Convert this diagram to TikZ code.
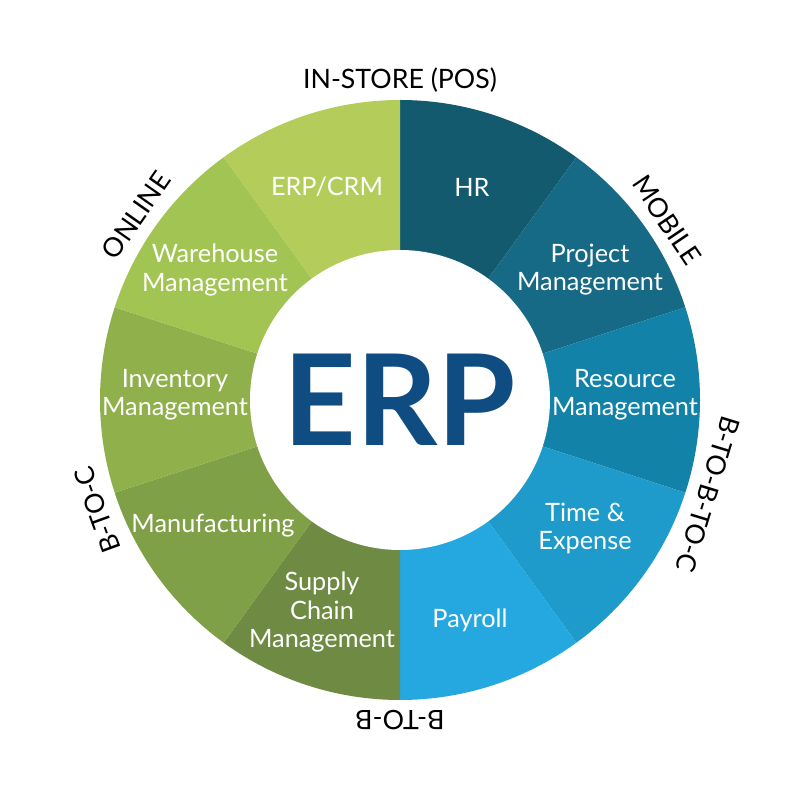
\documentclass[tikz,border=0pt]{standalone}
\usepackage{fontspec}
\setmainfont{Lato}
\usetikzlibrary{calc}
\definecolor{hrc}{HTML}{135A6E}
\definecolor{pmc}{HTML}{176A85}
\definecolor{rmc}{HTML}{1282A8}
\definecolor{tec}{HTML}{1E9ACB}
\definecolor{pyc}{HTML}{24A8DF}
\definecolor{scc}{HTML}{6E8A43}
\definecolor{mfc}{HTML}{7FA046}
\definecolor{imc}{HTML}{8FB04A}
\definecolor{wmc}{HTML}{A2C453}
\definecolor{crc}{HTML}{B3CC5A}
\definecolor{erpc}{HTML}{0F4C81}
\begin{document}
\begin{tikzpicture}[
        seg/.style={white, align=center, inner sep=1pt, font=\fontsize{7.2}{8}\selectfont},
        ring/.style={font=\fontsize{7.6}{9}\selectfont}
    ]
        \useasboundingbox (-4,-4) rectangle (4,4);
        % sectors, clockwise from the top
        \foreach \c [count=\i from 0] in {hrc,pmc,rmc,tec,pyc,scc,mfc,imc,wmc,crc} {
            \fill[\c] (0,0) -- ({90-36*\i}:3) arc ({90-36*\i}:{54-36*\i}:3) -- cycle;
        }
        \fill[white] (0,0) circle (1.5);
        \node[font=\fontsize{36}{36}\selectfont\bfseries, text=erpc] (erp) at (0,0) {ERP};

        % sector labels
        \node[seg] (hr) at (0.72,2.13) {HR};
        \node[seg] (pm) at (1.9,1.3) {Project\\Management};
        \node[seg] (rm) at (2.25,0.05) {Resource\\Management};
        \node[seg] (te) at (1.85,-1.28) {Time \&\\Expense};
        \node[seg] (py) at (0.7,-2.2) {Payroll};
        \node[seg] (sc) at (-0.78,-2.12) {Supply\\Chain\\Management};
        \node[seg] (mf) at (-1.87,-1.26) {Manufacturing};
        \node[seg] (im) at (-2.25,0.05) {Inventory\\Management};
        \node[seg] (wm) at (-1.85,1.3) {Warehouse\\Management};
        \node[seg] (cr) at (-0.73,2.13) {ERP/CRM};

        % channels round the ring
        \node[ring, rotate=0] (pos) at (90:3.2) {IN-STORE (POS)};
        \node[ring, rotate=-56] (mob) at (34:3.22) {MOBILE};
        \node[ring, rotate=-107] (bbc) at (-17:3.22) {B-TO-B-TO-C};
        \node[ring, rotate=180] (bb) at (-90:3.2) {B-TO-B};
        \node[ring, rotate=110] (bc) at (200:3.22) {B-TO-C};
        \node[ring, rotate=55] (onl) at (145:3.22) {ONLINE};
    \end{tikzpicture}
\end{document}
